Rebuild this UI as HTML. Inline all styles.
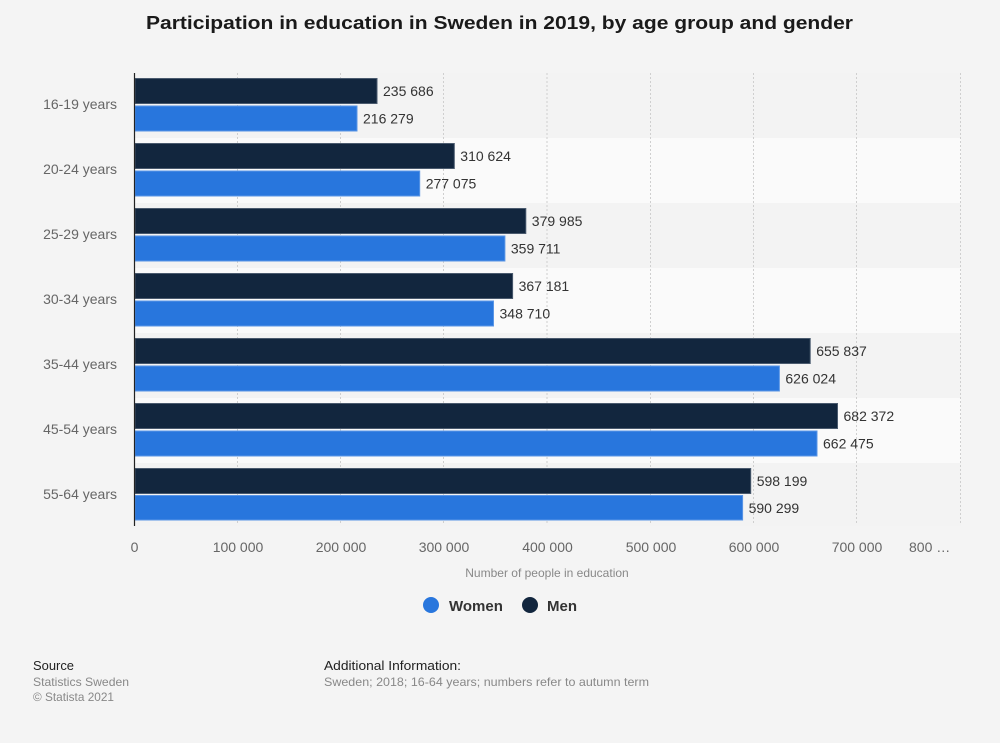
<!DOCTYPE html>
<html><head><meta charset="utf-8"><style>
html,body{margin:0;padding:0;background:#f4f4f4;}
svg{display:block;font-family:"Liberation Sans",Arial,sans-serif;}
</style></head><body>
<svg width="1000" height="743" viewBox="0 0 1000 743" xmlns="http://www.w3.org/2000/svg">
<rect x="0" y="0" width="1000" height="743" fill="#f4f4f4"/>
<text x="146" y="29" font-size="18.5" font-weight="bold" fill="#1a1a1a" textLength="707" lengthAdjust="spacingAndGlyphs">Participation in education in Sweden in 2019, by age group and gender</text>
<!-- bands -->
<rect x="135" y="73" width="826" height="65" fill="#f3f3f3"/>
<rect x="135" y="138" width="826" height="65" fill="#fafafa"/>
<rect x="135" y="203" width="826" height="65" fill="#f3f3f3"/>
<rect x="135" y="268" width="826" height="65" fill="#fafafa"/>
<rect x="135" y="333" width="826" height="65" fill="#f3f3f3"/>
<rect x="135" y="398" width="826" height="65" fill="#fafafa"/>
<rect x="135" y="463" width="826" height="63" fill="#f3f3f3"/>
<!-- grid -->
<g stroke="#cfcfcf" stroke-width="1" stroke-dasharray="2,2">
<line x1="237.5" y1="73" x2="237.5" y2="525"/>
<line x1="340.5" y1="73" x2="340.5" y2="525"/>
<line x1="443.5" y1="73" x2="443.5" y2="525"/>
<line x1="547" y1="73" x2="547" y2="525"/>
<line x1="650.5" y1="73" x2="650.5" y2="525"/>
<line x1="753.5" y1="73" x2="753.5" y2="525"/>
<line x1="856.5" y1="73" x2="856.5" y2="525"/>
<line x1="960.5" y1="73" x2="960.5" y2="525"/>
</g>
<!-- bars -->
<g stroke-width="1">
<rect x="135" y="78.5" width="242" height="25" fill="#12263e" stroke="#4a5a6e"/>
<rect x="135" y="106" width="222" height="25" fill="#2876dd" stroke="#5a96e6"/>
<rect x="135" y="143.5" width="319.3" height="25" fill="#12263e" stroke="#4a5a6e"/>
<rect x="135" y="171" width="284.7" height="25" fill="#2876dd" stroke="#5a96e6"/>
<rect x="135" y="208.5" width="390.8" height="25" fill="#12263e" stroke="#4a5a6e"/>
<rect x="135" y="236" width="369.9" height="25" fill="#2876dd" stroke="#5a96e6"/>
<rect x="135" y="273.5" width="377.6" height="25" fill="#12263e" stroke="#4a5a6e"/>
<rect x="135" y="301" width="358.5" height="25" fill="#2876dd" stroke="#5a96e6"/>
<rect x="135" y="338.5" width="675.2" height="25" fill="#12263e" stroke="#4a5a6e"/>
<rect x="135" y="366" width="644.4" height="25" fill="#2876dd" stroke="#5a96e6"/>
<rect x="135" y="403.5" width="702.5" height="25" fill="#12263e" stroke="#4a5a6e"/>
<rect x="135" y="431" width="682" height="25" fill="#2876dd" stroke="#5a96e6"/>
<rect x="135" y="468.5" width="615.7" height="25" fill="#12263e" stroke="#4a5a6e"/>
<rect x="135" y="495.5" width="607.6" height="24.5" fill="#2876dd" stroke="#5a96e6"/>
</g>
<!-- axis line -->
<line x1="134.5" y1="73" x2="134.5" y2="526" stroke="#222" stroke-width="1.2"/>
<!-- value labels -->
<g font-size="14" fill="#333">
<text x="383" y="96">235 686</text>
<text x="363" y="123.5">216 279</text>
<text x="460.3" y="161">310 624</text>
<text x="425.7" y="188.5">277 075</text>
<text x="531.8" y="226">379 985</text>
<text x="510.9" y="253.5">359 711</text>
<text x="518.6" y="291">367 181</text>
<text x="499.5" y="318.5">348 710</text>
<text x="816.2" y="356">655 837</text>
<text x="785.4" y="383.5">626 024</text>
<text x="843.5" y="421">682 372</text>
<text x="823" y="448.5">662 475</text>
<text x="756.7" y="486">598 199</text>
<text x="748.6" y="513">590 299</text>
</g>
<!-- category labels -->
<g font-size="14" fill="#666" text-anchor="end">
<text x="117" y="109">16-19 years</text>
<text x="117" y="174">20-24 years</text>
<text x="117" y="239">25-29 years</text>
<text x="117" y="304">30-34 years</text>
<text x="117" y="369">35-44 years</text>
<text x="117" y="434">45-54 years</text>
<text x="117" y="499">55-64 years</text>
</g>
<!-- x ticks -->
<g font-size="14" fill="#666" text-anchor="middle">
<text x="134.5" y="552">0</text>
<text x="238" y="552">100 000</text>
<text x="341" y="552">200 000</text>
<text x="444" y="552">300 000</text>
<text x="547.5" y="552">400 000</text>
<text x="651" y="552">500 000</text>
<text x="754" y="552">600 000</text>
<text x="857" y="552">700 000</text>
</g>
<text x="909" y="552" font-size="14" fill="#666">800 …</text>
<text x="547" y="577" font-size="12" fill="#888" text-anchor="middle">Number of people in education</text>
<!-- legend -->
<circle cx="431" cy="605" r="8" fill="#2876dd"/>
<text x="449" y="611" font-size="15" font-weight="bold" fill="#333">Women</text>
<circle cx="530" cy="605" r="8" fill="#12263e"/>
<text x="547" y="611" font-size="15" font-weight="bold" fill="#333">Men</text>
<!-- footer -->
<text x="33" y="670" font-size="12.5" fill="#222" textLength="41" lengthAdjust="spacingAndGlyphs">Source</text>
<text x="33" y="686" font-size="12" fill="#888" textLength="96" lengthAdjust="spacingAndGlyphs">Statistics Sweden</text>
<text x="33" y="701" font-size="12" fill="#888" textLength="81" lengthAdjust="spacingAndGlyphs">© Statista 2021</text>
<text x="324" y="670" font-size="12.5" fill="#222" textLength="137" lengthAdjust="spacingAndGlyphs">Additional Information:</text>
<text x="324" y="686" font-size="12" fill="#888" textLength="325" lengthAdjust="spacingAndGlyphs">Sweden; 2018; 16-64 years; numbers refer to autumn term</text>
</svg>
</body></html>
